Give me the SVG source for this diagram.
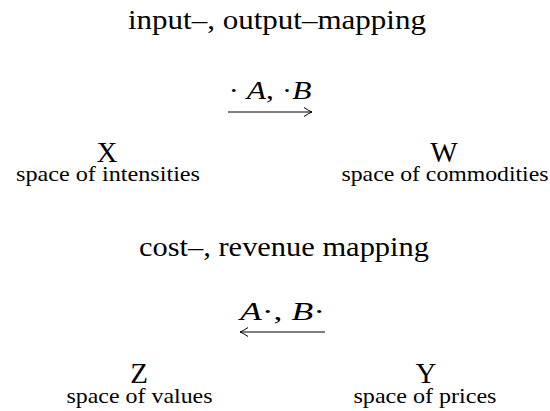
<svg xmlns="http://www.w3.org/2000/svg" width="550" height="411" viewBox="0 0 550 411">
<style>
text{font-family:"Liberation Serif","Times New Roman",serif;fill:#000;text-anchor:middle}
.t{font-size:27px}
.big{font-size:29px}
.sm{font-size:21px}
.m{font-size:25px;font-style:italic}
.r{font-style:normal}
.c{stroke:#000;stroke-width:1;fill:none}
</style>
<defs>
<marker id="ah" markerWidth="12" markerHeight="12" refX="9" refY="6" orient="auto" markerUnits="userSpaceOnUse">
<path d="M1,1.5 Q6,5 9,6 Q6,7 1,10.5" fill="none" stroke="#000" stroke-width="1"/>
</marker>
</defs>
<g id="title1"><text class="t" x="277" y="29" textLength="298" lengthAdjust="spacingAndGlyphs">input–, output–mapping</text></g>
<g id="label1"><text class="m" x="270" y="99" textLength="83" lengthAdjust="spacingAndGlyphs"><tspan class="r">· </tspan>A<tspan class="r">, ·</tspan>B</text></g>
<g id="X"><text class="big" x="107" y="162">X</text><text class="sm" x="108" y="181" textLength="184" lengthAdjust="spacingAndGlyphs">space of intensities</text></g>
<g id="W"><text class="big" x="444" y="162">W</text><text class="sm" x="445" y="181" textLength="207" lengthAdjust="spacingAndGlyphs">space of commodities</text></g>
<g id="title2"><text class="t" x="284" y="256" textLength="290" lengthAdjust="spacingAndGlyphs">cost–, revenue mapping</text></g>
<g id="label2"><text class="m" x="282.5" y="320" textLength="85" lengthAdjust="spacingAndGlyphs">A<tspan class="r">·, </tspan>B<tspan class="r">·</tspan></text></g>
<g id="Z"><text class="big" x="139" y="383">Z</text><text class="sm" x="139.5" y="403" textLength="146" lengthAdjust="spacingAndGlyphs">space of values</text></g>
<g id="Y"><text class="big" x="426" y="383">Y</text><text class="sm" x="425" y="403" textLength="143" lengthAdjust="spacingAndGlyphs">space of prices</text></g>
<g id="connectors">
<line class="c" x1="228" y1="112" x2="312" y2="112" marker-end="url(#ah)"/>
<line class="c" x1="325" y1="332" x2="240" y2="332" marker-end="url(#ah)"/>
</g>
</svg>
